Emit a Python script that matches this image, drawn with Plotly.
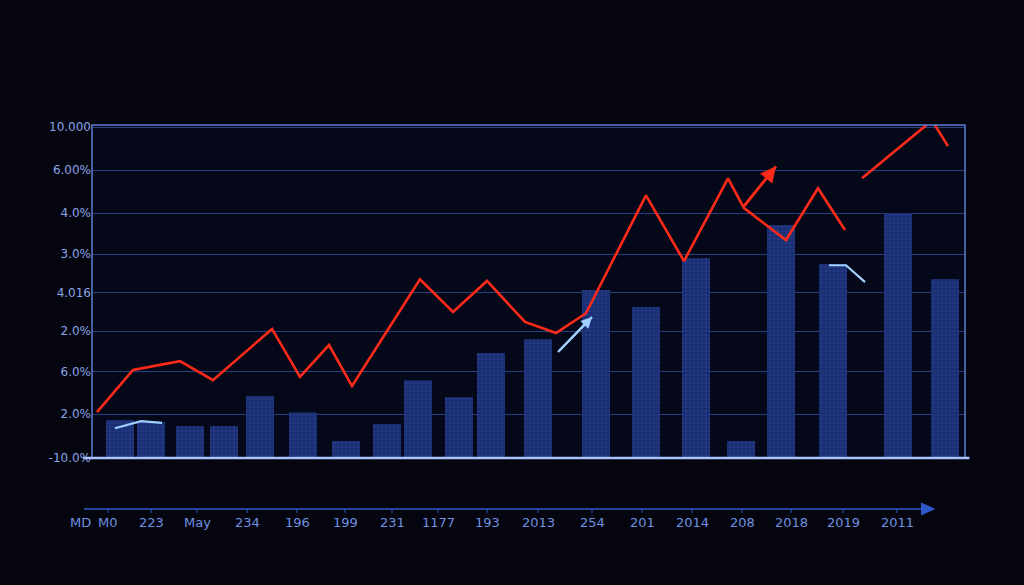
import plotly.graph_objects as go

# bar positions (x in chart units) and values
bar_x = [120,151,190,224,260,303,346,387,418,459,491,538,596,646,696,741,781,833,898,945]
bar_v = [0.92,0.87,0.77,0.77,1.5,1.1,0.41,0.82,1.88,1.47,2.54,2.87,4.06,3.65,4.83,0.41,5.63,4.69,5.92,4.32]

red_x = [97,133,180,213,272,300,329,352,420,453,487,525,556,586,646,684,728,744,786,818,845,None,862,932,948]
red_y = [1.11,2.13,2.34,1.88,3.12,1.96,2.73,1.74,4.32,3.53,4.28,3.29,3.02,3.50,6.35,4.76,6.76,6.04,5.27,6.52,5.51,None,6.76,8.16,7.54]
red_arrow_x = [744,776]
red_arrow_y = [6.09,7.05]

blue_x = [115,141,162,None,829,846,865]
blue_y = [0.72,0.89,0.85,None,4.66,4.66,4.25]
blue_arrow_x = [558,592]
blue_arrow_y = [2.56,3.41]

y_tickvals = [0,1.06,2.08,3.07,3.99,4.93,5.92,6.96,8]
y_ticktext = ["-10.0%","2.0%","6.0%","2.0%","4.016","3.0%","4.0%","6.00%","10.000"]

x_label_pos = [80,108,151,197,247,297,345,392,438,487,538,592,642,692,742,791,843,897]
x_labels = ["MD","M0","223","May","234","196","199","231","1177","193","2013","254","201","2014","208","2018","2019","2011"]

X0, X1 = 92, 965

fig = go.Figure()
fig.add_trace(go.Bar(x=bar_x, y=bar_v, width=28,
    marker=dict(color="#1b2f72", line=dict(width=0),
                pattern=dict(shape=".", fgcolor="#2a44a0", size=4, solidity=0.3))))
fig.add_trace(go.Scatter(x=red_x, y=red_y, mode="lines",
    line=dict(color="#ff2a1a", width=2.6), connectgaps=False))
fig.add_trace(go.Scatter(x=red_arrow_x, y=red_arrow_y, mode="lines",
    line=dict(color="#ff2a1a", width=2.6)))
fig.add_trace(go.Scatter(x=blue_x, y=blue_y, mode="lines",
    line=dict(color="#9fd0ff", width=2.2), connectgaps=False))
fig.add_trace(go.Scatter(x=blue_arrow_x, y=blue_arrow_y, mode="lines",
    line=dict(color="#9fd0ff", width=2.2)))

def px(p):
    return (p - X0) / (X1 - X0)

ann = [dict(x=px(p), y=-0.195, xref="paper", yref="paper", xanchor="center", yanchor="middle",
            text=t, showarrow=False,
            font=dict(color="#7090e0", size=13, family="DejaVu Sans")) for p, t in zip(x_label_pos, x_labels)]
ann.append(dict(x=red_arrow_x[1], y=red_arrow_y[1], ax=red_arrow_x[0], ay=red_arrow_y[0],
                xref="x", yref="y", axref="x", ayref="y", text="", showarrow=True,
                arrowhead=2, arrowsize=1.2, arrowwidth=2.6, arrowcolor="#ff2a1a"))
ann.append(dict(x=blue_arrow_x[1], y=blue_arrow_y[1], ax=blue_arrow_x[0], ay=blue_arrow_y[0],
                xref="x", yref="y", axref="x", ayref="y", text="", showarrow=True,
                arrowhead=2, arrowsize=1, arrowwidth=2.2, arrowcolor="#9fd0ff"))

shapes = [
    dict(type="rect", xref="paper", yref="paper", x0=0, x1=1, y0=0, y1=1.0,
         line=dict(color="#5a7fd8", width=1.5)),
    dict(type="line", xref="paper", yref="paper", x0=-0.01, x1=1.005, y0=0, y1=0,
         line=dict(color="#a8c4ff", width=2.5)),
    dict(type="line", xref="paper", yref="paper", x0=px(84), x1=px(928), y0=-0.153, y1=-0.153,
         line=dict(color="#2f58c8", width=1.5)),
    dict(type="path", xref="paper", yref="paper",
         path=f"M {px(922)},-0.138 L {px(933)},-0.153 L {px(922)},-0.168 Z",
         fillcolor="#2f58c8", line=dict(color="#2f58c8")),
]
for p in x_label_pos[1:]:
    shapes.append(dict(type="line", xref="paper", yref="paper", x0=px(p), x1=px(p),
                       y0=-0.153, y1=-0.165, line=dict(color="#2f58c8", width=1)))

fig.update_layout(
    width=1024, height=585, showlegend=False,
    margin=dict(l=92, r=59, t=125, b=127),
    paper_bgcolor="#04050e", plot_bgcolor="#050818",
    xaxis=dict(range=[X0, X1], showgrid=False, zeroline=False, showticklabels=False),
    yaxis=dict(range=[0, 8.05], tickvals=y_tickvals, ticktext=y_ticktext,
               gridcolor="#27407f", gridwidth=1.2, zeroline=False,
               tickfont=dict(color="#8aa4e8", size=12, family="DejaVu Sans"), ticks=""),
    annotations=ann,
    shapes=shapes,
)
fig.write_html("out.html", config={"displayModeBar": False},
               post_script="document.body.style.margin='0';document.body.style.background='#04050e';document.body.style.overflow='hidden';")
